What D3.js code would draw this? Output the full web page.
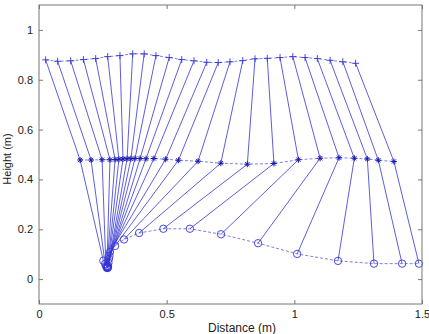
<!DOCTYPE html>
<html>
<head>
<meta charset="utf-8">
<script src="https://cdn.jsdelivr.net/npm/d3@7"></script>
<style>
  body { margin: 0; background: #fff; }
  svg { display: block; font-family: "Liberation Sans", Arial, sans-serif; }
</style>
</head>
<body>
<div id="chart"></div>
<script>
// hip (+), knee (*) and foot (o) positions per frame, in metres
var hipX = [0.026, 0.073, 0.124, 0.174, 0.222, 0.269, 0.317, 0.367, 0.412, 0.458, 0.510, 0.559, 0.607,
            0.657, 0.702, 0.748, 0.798, 0.846, 0.894, 0.944, 0.994, 1.042, 1.090, 1.140, 1.190, 1.240];
var hipY = [0.880, 0.874, 0.876, 0.881, 0.885, 0.893, 0.897, 0.904, 0.904, 0.897, 0.889, 0.881, 0.876,
            0.870, 0.869, 0.872, 0.877, 0.884, 0.886, 0.889, 0.893, 0.889, 0.885, 0.878, 0.872, 0.866];
var kneeX = [0.161, 0.204, 0.247, 0.278, 0.298, 0.313, 0.329, 0.345, 0.360, 0.376, 0.396, 0.419, 0.450,
             0.496, 0.546, 0.623, 0.712, 0.816, 0.920, 1.016, 1.101, 1.175, 1.235, 1.286, 1.329, 1.390];
var kneeY = [0.478, 0.478, 0.479, 0.479, 0.480, 0.481, 0.482, 0.483, 0.483, 0.484, 0.484, 0.483, 0.484,
             0.481, 0.477, 0.473, 0.465, 0.461, 0.464, 0.479, 0.485, 0.487, 0.485, 0.482, 0.477, 0.472];
var footX = [0.252, 0.259, 0.262, 0.266, 0.266, 0.268, 0.268, 0.270, 0.270, 0.270, 0.272, 0.274, 0.276,
             0.278, 0.298, 0.333, 0.392, 0.487, 0.591, 0.713, 0.858, 1.011, 1.171, 1.312, 1.422, 1.488];
var footY = [0.074, 0.061, 0.053, 0.049, 0.045, 0.045, 0.045, 0.047, 0.049, 0.053, 0.065, 0.081, 0.093,
             0.109, 0.133, 0.159, 0.185, 0.202, 0.202, 0.180, 0.144, 0.101, 0.073, 0.062, 0.062, 0.062];

var xTicks = [0, 0.5, 1, 1.5];
var yTicks = [0, 0.2, 0.4, 0.6, 0.8, 1];

var W = 429, H = 334;
var x = d3.scaleLinear().domain([0, 1.5]).range([39, 422]);
var y = d3.scaleLinear().domain([-0.1, 1.1]).range([304, 5]);
var blue = "#3535d4";

var svg = d3.select("#chart").append("svg").attr("width", W).attr("height", H);

var hips = hipX.map(function(d, i){ return [d, hipY[i]]; });
var knees = kneeX.map(function(d, i){ return [d, kneeY[i]]; });
var feet = footX.map(function(d, i){ return [d, footY[i]]; });

var line = d3.line().x(function(d){ return x(d[0]); }).y(function(d){ return y(d[1]); });

// legs: hip -> knee -> foot for every frame
svg.append("g").selectAll("path").data(hips).enter().append("path")
  .attr("d", function(d, i){ return line([d, knees[i], feet[i]]); })
  .attr("fill", "none").attr("stroke", blue).attr("stroke-width", 0.8);

// trajectories (dashed)
[hips, knees, feet].forEach(function(pts){
  svg.append("path").attr("d", line(pts))
    .attr("fill", "none").attr("stroke", blue).attr("stroke-width", 0.8)
    .attr("stroke-dasharray", "3,2").attr("opacity", 0.8);
});

// + markers
svg.append("g").selectAll("path").data(hips).enter().append("path")
  .attr("d", function(d){
    var cx = x(d[0]), cy = y(d[1]), s = 3.5;
    return "M" + (cx - s) + "," + cy + "H" + (cx + s) + "M" + cx + "," + (cy - s) + "V" + (cy + s);
  })
  .attr("stroke", blue).attr("stroke-width", 0.9).attr("fill", "none");

// * markers
svg.append("g").selectAll("path").data(knees).enter().append("path")
  .attr("d", function(d){
    var cx = x(d[0]), cy = y(d[1]), s = 3, t = 2.1;
    return "M" + (cx - s) + "," + cy + "H" + (cx + s) + "M" + cx + "," + (cy - s) + "V" + (cy + s) +
      "M" + (cx - t) + "," + (cy - t) + "L" + (cx + t) + "," + (cy + t) +
      "M" + (cx - t) + "," + (cy + t) + "L" + (cx + t) + "," + (cy - t);
  })
  .attr("stroke", "#1a1ab0").attr("stroke-width", 1).attr("fill", "none");

// o markers
svg.append("g").selectAll("circle").data(feet).enter().append("circle")
  .attr("cx", function(d){ return x(d[0]); })
  .attr("cy", function(d){ return y(d[1]); })
  .attr("r", 3.7)
  .attr("fill", "none").attr("stroke", blue).attr("stroke-width", 0.9);

// axes box
var axisColor = "#777";
svg.append("rect").attr("x", x(0)).attr("y", y(1.1))
  .attr("width", x(1.5) - x(0)).attr("height", y(-0.1) - y(1.1))
  .attr("fill", "none").attr("stroke", axisColor).attr("stroke-width", 1);

var axBottom = svg.append("g").attr("transform", "translate(0," + y(-0.1) + ")")
  .call(d3.axisBottom(x).tickValues(xTicks).tickSize(-4).tickPadding(6).tickFormat(d3.format("")));
var axTop = svg.append("g").attr("transform", "translate(0," + y(1.1) + ")")
  .call(d3.axisTop(x).tickValues(xTicks).tickSize(-4).tickFormat(""));
var axLeft = svg.append("g").attr("transform", "translate(" + x(0) + ",0)")
  .call(d3.axisLeft(y).tickValues(yTicks).tickSize(-4).tickPadding(6).tickFormat(d3.format("")));
var axRight = svg.append("g").attr("transform", "translate(" + x(1.5) + ",0)")
  .call(d3.axisRight(y).tickValues(yTicks).tickSize(-4).tickFormat(""));

[axBottom, axTop, axLeft, axRight].forEach(function(g){
  g.select(".domain").remove();
  g.selectAll(".tick line").attr("stroke", axisColor);
  g.selectAll("text").attr("fill", "#222").style("font-size", "11px")
    .style("font-family", "'Liberation Sans', Arial, sans-serif");
});

svg.append("text").attr("x", 242).attr("y", 332)
  .attr("text-anchor", "middle").attr("fill", "#222")
  .style("font-size", "12px").text("Distance (m)");

svg.append("text").attr("transform", "translate(11,159) rotate(-90)")
  .attr("text-anchor", "middle").attr("fill", "#222")
  .style("font-size", "11px").text("Height (m)");
</script>
</body>
</html>
